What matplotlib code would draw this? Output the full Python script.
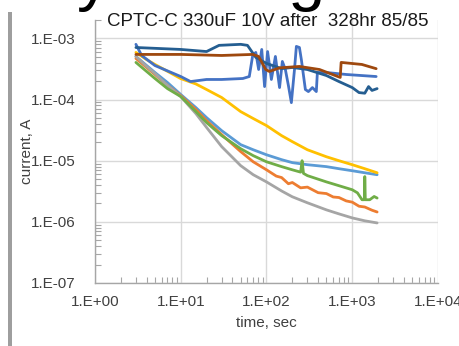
import matplotlib
matplotlib.use("Agg")
import matplotlib.pyplot as plt
from matplotlib.patches import Rectangle
from matplotlib.ticker import LogLocator, FixedLocator, NullFormatter

plt.rcParams['font.family'] = ['Liberation Sans', 'DejaVu Sans']

# ---------------- data ----------------
t_main = [3, 4, 5, 7, 10, 15, 20, 30, 50, 70, 100, 150, 200, 300, 500, 700, 1000, 1400, 1950]

light_blue = [5.07e-4, 3.6e-4, 2.77e-4, 1.9e-4, 1.21e-4, 7.4e-5, 5.07e-5, 3.1e-5, 1.83e-5, 1.51e-5,
              1.25e-5, 1.04e-5, 9.3e-6, 8.6e-6, 8.0e-6, 7.4e-6, 6.85e-6, 6.35e-6, 5.9e-6]

gray = [5.07e-4, 3.48e-4, 2.67e-4, 1.70e-4, 1.12e-4, 5.9e-5, 3.5e-5, 1.70e-5, 8.3e-6, 5.9e-6,
        4.5e-6, 3.2e-6, 2.57e-6, 2.05e-6, 1.57e-6, 1.35e-6, 1.16e-6, 1.04e-6, 9.6e-7]

yellow = [5.9e-4, 4.5e-4, 3.75e-4, 2.9e-4, 2.2e-4, 1.8e-4, 1.46e-4, 1.08e-4, 6.35e-5, 4.9e-5,
          3.75e-5, 2.57e-5, 2.05e-5, 1.51e-5, 1.16e-5, 1.0e-5, 8.6e-6, 7.4e-6, 6.35e-6]

t_orange = [3, 4, 5, 7, 10, 15, 20, 30, 50, 70, 100, 130, 150, 180, 200, 250, 300, 400, 500,
            600, 700, 850, 1000, 1200, 1400, 1700, 1950]
orange = [4.7e-4, 3.35e-4, 2.57e-4, 1.70e-4, 1.16e-4, 6.85e-5, 4.5e-5, 2.67e-5, 1.41e-5, 9.6e-6,
          7.1e-6, 5.6e-6, 5.3e-6, 4.2e-6, 4.4e-6, 3.6e-6, 3.7e-6, 3.0e-6, 2.9e-6,
          2.55e-6, 2.5e-6, 2.2e-6, 2.1e-6, 1.8e-6, 1.75e-6, 1.55e-6, 1.45e-6]

t_green = [3, 4, 5, 7, 10, 15, 20, 30, 50, 70, 100, 150, 200, 250, 260, 270, 300, 500, 700,
           1000, 1150, 1300, 1390, 1400, 1420, 1600, 1800, 1950]
green = [4.05e-4, 2.88e-4, 2.21e-4, 1.51e-4, 1.12e-4, 6.35e-5, 4.2e-5, 2.57e-5, 1.57e-5, 1.21e-5,
         9.6e-6, 8.0e-6, 7.1e-6, 6.5e-6, 1.0e-5, 6.2e-6, 5.7e-6, 4.5e-6, 3.9e-6,
         3.35e-6, 2.98e-6, 2.3e-6, 2.3e-6, 5.5e-6, 2.3e-6, 2.3e-6, 2.6e-6, 2.45e-6]

t_blue = [3.0, 3.5, 5.0, 10, 13, 20, 30, 53, 63, 69, 75, 81, 88, 95, 103, 114, 127, 142, 153, 166,
          180, 195, 212, 223, 242, 255, 269, 284, 308, 343, 381, 392, 499, 852, 1900]
blue = [8.0e-4, 5.26e-4, 3.6e-4, 2.38e-4, 1.97e-4, 2.13e-4, 2.13e-4, 2.21e-4, 2.38e-4, 5.26e-4,
        5.9e-4, 3.1e-4, 6.6e-4, 1.63e-4, 6.1e-4, 2.13e-4, 5.07e-4, 1.57e-4, 4.2e-4, 3.1e-4,
        1.70e-4, 8.9e-5, 3.1e-4, 7.4e-4, 7.1e-4, 4.5e-4, 2.57e-4, 1.46e-4, 1.35e-4, 1.57e-4,
        1.35e-4, 2.77e-4, 2.77e-4, 2.57e-4, 2.38e-4]

t_dblue = [3, 10, 20, 28, 50, 60, 75, 100, 150, 200, 300, 500, 700, 1000, 1200, 1400, 1550, 1700, 1950]
dark_blue = [7.1e-4, 6.6e-4, 6.1e-4, 7.7e-4, 8.0e-4, 7.7e-4, 4.9e-4, 3.9e-4, 3.2e-4, 3.35e-4,
             3.1e-4, 2.47e-4, 1.97e-4, 1.57e-4, 1.30e-4, 1.27e-4, 1.63e-4, 1.41e-4, 1.51e-4]

t_brown = [3, 10, 30, 69, 81, 98, 108, 142, 242, 415, 724, 742, 1295, 1900]
brown = [5.47e-4, 5.47e-4, 5.26e-4, 5.47e-4, 5.07e-4, 3.1e-4, 2.88e-4, 3.3e-4, 3.48e-4, 3.1e-4,
         2.3e-4, 4.05e-4, 3.75e-4, 3.2e-4]

x_ticks = [1, 10, 100, 1000, 10000]
x_tick_labels = ["1.E+00", "1.E+01", "1.E+02", "1.E+03", "1.E+04"]
y_ticks = [1e-7, 1e-6, 1e-5, 1e-4, 1e-3]
y_tick_labels = ["1.E-07", "1.E-06", "1.E-05", "1.E-04", "1.E-03"]

title = "CPTC-C 330uF 10V after  328hr 85/85"
big_title = "Humidity testing"

# ---------------- figure ----------------
fig = plt.figure(figsize=(4.6, 3.46), dpi=100)
ax = fig.add_axes([95/460, 63/346, 343/460, 263/346])

series = [
    (t_main, light_blue, '#5B9BD5'),
    (t_orange, orange, '#ED7D31'),
    (t_main, gray, '#A5A5A5'),
    (t_main, yellow, '#FFC000'),
    (t_blue, blue, '#4472C4'),
    (t_green, green, '#70AD47'),
    (t_dblue, dark_blue, '#255E91'),
    (t_brown, brown, '#9E480E'),
]
for tx, yv, c in series:
    ax.plot(tx, yv, color=c, lw=2.0, solid_joinstyle='round', solid_capstyle='round')

ax.set_xscale('log')
ax.set_yscale('log')
ax.set_xlim(1, 1e4)
ax.set_ylim(1e-7, 2e-3)

ax.xaxis.set_major_locator(FixedLocator(x_ticks))
ax.set_xticklabels(x_tick_labels)
ax.yaxis.set_major_locator(FixedLocator(y_ticks))
ax.set_yticklabels(y_tick_labels)
ax.xaxis.set_minor_locator(LogLocator(base=10, subs=range(2, 10)))
ax.yaxis.set_minor_locator(LogLocator(base=10, subs=range(2, 10)))
ax.xaxis.set_minor_formatter(NullFormatter())
ax.yaxis.set_minor_formatter(NullFormatter())

ax.grid(True, which='major', color='#D9D9D9', lw=1.0)
ax.set_axisbelow(True)
for s in ['top', 'right']:
    ax.spines[s].set_visible(False)
for s in ['left', 'bottom']:
    ax.spines[s].set_color('#A6A6A6')
    ax.spines[s].set_linewidth(1.0)

ax.tick_params(axis='y', which='major', length=0, labelsize=11, labelcolor='#404040', pad=14)
ax.tick_params(axis='x', which='major', length=0, labelsize=11, labelcolor='#404040', pad=9)
ax.tick_params(which='minor', direction='in', length=4, color='#A6A6A6', width=0.8)

ax.set_xlabel("time, sec", fontsize=11, color='#404040', labelpad=5)
ax.set_ylabel("current, A", fontsize=11, color='#404040')
ax.yaxis.set_label_coords(-0.178, 0.5)

fig.text(268/460, 1 - 21/346, title, ha='center', va='center', fontsize=13.5, color='#1a1a1a')
fig.text(325/460, 1 + 2/346, big_title, ha='right', va='baseline', fontsize=48, color='#000000')

fig.patches.append(Rectangle((8/460, 0), 4/460, 1 - 12/346, transform=fig.transFigure,
                             facecolor='#9E9E9E', edgecolor='none'))

fig.savefig("out.png", dpi=100)
